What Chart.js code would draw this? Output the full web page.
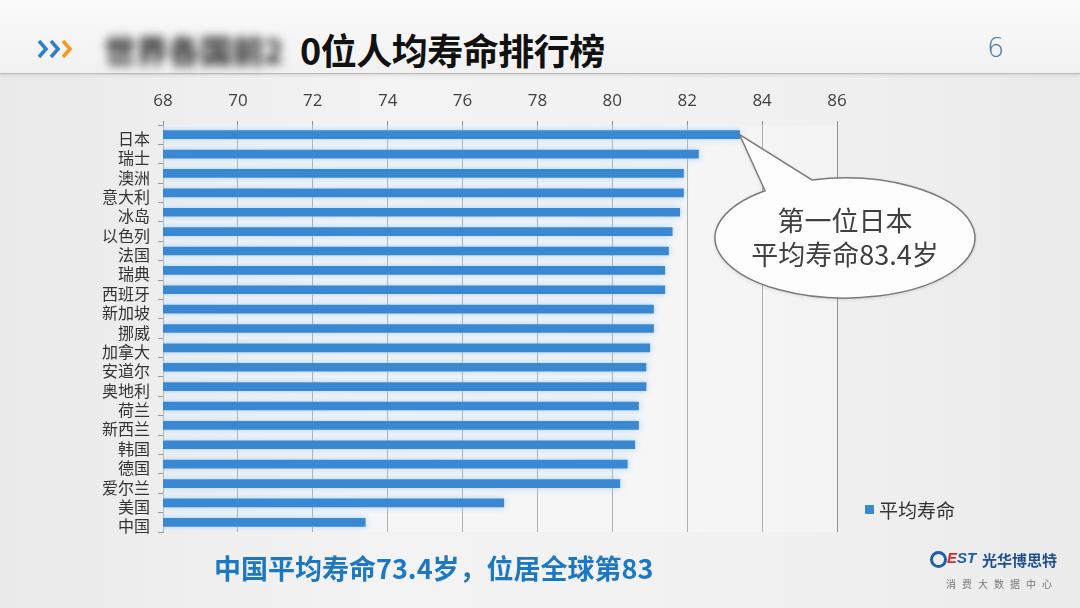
<!DOCTYPE html>
<html>
<head>
<meta charset="utf-8">
<script src="https://cdn.jsdelivr.net/npm/chart.js@4.4.1/dist/chart.umd.min.js"></script>
<style>
  body { margin: 0; width: 1080px; height: 608px; overflow: hidden; position: relative;
         font-family: "Noto Sans CJK SC", "Noto Sans", sans-serif;
         background: linear-gradient(to right, #eaeaea 0%, #f3f3f3 35%, #f1f1f1 70%, #ebebeb 100%); }
  #header { position: absolute; left: 0; top: 0; width: 1080px; height: 73px;
            background: linear-gradient(to bottom, #fafafa, #f1f1f1);
            border-bottom: 1px solid #b9b9b9; box-shadow: 0 2px 3px rgba(0,0,0,0.08); }
  #chart { position: absolute; left: 0; top: 0; }
  .abs { position: absolute; white-space: nowrap; }
</style>
</head>
<body>
<div id="header"></div>
<svg class="abs" style="left:36px;top:38px" width="52" height="22">
  <polyline points="3,3 10,11 3,19" fill="none" stroke="#2f7fc8" stroke-width="3.5"/>
  <polyline points="15,3 22,11 15,19" fill="none" stroke="#2f7fc8" stroke-width="3.5"/>
  <polyline points="27,3 34,11 27,19" fill="none" stroke="#f39a1e" stroke-width="3.5"/>
</svg>
<div class="abs" style="left:104px;top:26px;font-size:32px;font-weight:bold;color:#222;filter:blur(5px)">世界各国前2</div>
<div class="abs" style="left:300px;top:23px;font-size:36px;font-weight:bold;color:#111;letter-spacing:-0.5px">0位人均寿命排行榜</div>
<div class="abs" style="left:987px;top:32px;font-size:27px;color:#4a78a8;font-family:'DejaVu Sans',sans-serif;font-weight:300">6</div>

<canvas id="chart" width="1080" height="608"></canvas>

<div class="abs" style="left:715px;top:203px;width:260px;text-align:center;font-size:27px;line-height:34px;color:#404040">第一位日本<br>平均寿命83.4岁</div>

<div class="abs" style="left:865px;top:505px;width:9px;height:9px;background:#3a88d2"></div>
<div class="abs" style="left:879px;top:496px;font-size:19px;color:#333">平均寿命</div>

<div class="abs" style="left:214px;top:548px;font-size:27px;font-weight:bold;color:#1c78c0">中国平均寿命73.4岁，位居全球第83</div>

<div class="abs" style="left:930px;top:551px;width:17px;height:17px;border-radius:50%;border:3px solid #1e5fa8;box-sizing:border-box"></div>
<div class="abs" style="left:947px;top:549px;font-size:15px;font-weight:bold;font-style:italic;color:#d62b2b;font-family:'Liberation Sans',sans-serif">E<span style="color:#1e5fa8">ST</span></div>
<div class="abs" style="left:982px;top:549px;font-size:15px;font-weight:bold;color:#1e4f8f">光华博思特</div>
<div class="abs" style="left:946px;top:576px;font-size:10px;color:#777;letter-spacing:6px">消费大数据中心</div>

<script>
// данные
const countries = ['日本', '瑞士', '澳洲', '意大利', '冰岛', '以色列', '法国', '瑞典', '西班牙', '新加坡', '挪威',
    '加拿大', '安道尔', '奥地利', '荷兰', '新西兰', '韩国', '德国', '爱尔兰', '美国', '中国'];
const lifeExpectancy = [83.4, 82.3, 81.9, 81.9, 81.8, 81.6, 81.5, 81.4, 81.4, 81.1, 81.1,
    81.0, 80.9, 80.9, 80.7, 80.7, 80.6, 80.4, 80.2, 77.1, 73.4];
const axisMin = 68;
const axisMax = 86;
const axisStep = 2;

// светлый ореол вокруг полос + фон области графика
const glowPlugin = {
    id: 'glow',
    beforeDatasetsDraw(chart) {
        const a = chart.chartArea;
        chart.ctx.save();
        chart.ctx.fillStyle = 'rgba(255,255,255,0.3)';
        chart.ctx.fillRect(a.left, a.top, a.right - a.left, a.bottom - a.top);
        chart.ctx.restore();
        chart.ctx.save();
        chart.ctx.shadowColor = 'rgba(160,205,245,0.9)';
        chart.ctx.shadowBlur = 7;
    },
    afterDatasetsDraw(chart) {
        chart.ctx.restore();
    }
};

// выноска к первой полосе
const calloutPlugin = {
    id: 'callout',
    afterDraw(chart) {
        const bar = chart.getDatasetMeta(0).data[0];
        const ctx = chart.ctx;
        const cx = 845, cy = 238, rx = 130, ry = 60;
        const a1 = Math.acos((812 - cx) / rx) * -1;
        const a2 = Math.acos((765 - cx) / rx) * -1;
        ctx.save();
        ctx.beginPath();
        ctx.moveTo(bar.x, bar.y);
        ctx.lineTo(cx + rx * Math.cos(a1), cy + ry * Math.sin(a1));
        ctx.ellipse(cx, cy, rx, ry, 0, a1, a2 + Math.PI * 2, false);
        ctx.closePath();
        ctx.shadowColor = 'rgba(0,0,0,0.15)';
        ctx.shadowBlur = 4;
        ctx.shadowOffsetY = 1;
        ctx.fillStyle = '#fdfdfd';
        ctx.fill();
        ctx.shadowColor = 'transparent';
        ctx.strokeStyle = '#7a7a7a';
        ctx.lineWidth = 1.5;
        ctx.stroke();
        ctx.restore();
    }
};

const ctx = document.getElementById('chart').getContext('2d');

const lifeChart = new Chart(ctx, {
    type: 'bar',
    data: {
        labels: countries,
        datasets: [{
            label: '平均寿命',
            data: lifeExpectancy,
            backgroundColor: '#3a88d2',
            barThickness: 8,
        }]
    },
    options: {
        indexAxis: 'y',
        responsive: false,
        animation: false,
        layout: {
            padding: { left: 0, right: 243, top: 80, bottom: 76 }
        },
        scales: {
            x: {
                position: 'top',
                min: axisMin,
                max: axisMax,
                afterFit: scale => { scale.height = 45; },
                ticks: {
                    stepSize: axisStep,
                    padding: 10,
                    color: '#404040',
                    font: { size: 17, family: 'Open Sans' }
                },
                grid: { color: '#8f8f8f', tickLength: 4, lineWidth: 1 },
                border: { display: false }
            },
            y: {
                afterFit: scale => { scale.width = 163; },
                ticks: {
                    autoSkip: false,
                    padding: 8,
                    labelOffset: 4,
                    color: '#333',
                    font: { size: 16, family: 'Noto Sans CJK SC' }
                },
                grid: { drawOnChartArea: false, tickLength: 5, color: '#999', offset: true },
                border: { display: true, color: '#999' }
            }
        },
        plugins: {
            legend: { display: false },
            tooltip: { enabled: false }
        }
    },
    plugins: [glowPlugin, calloutPlugin]
});
</script>
</body>
</html>
